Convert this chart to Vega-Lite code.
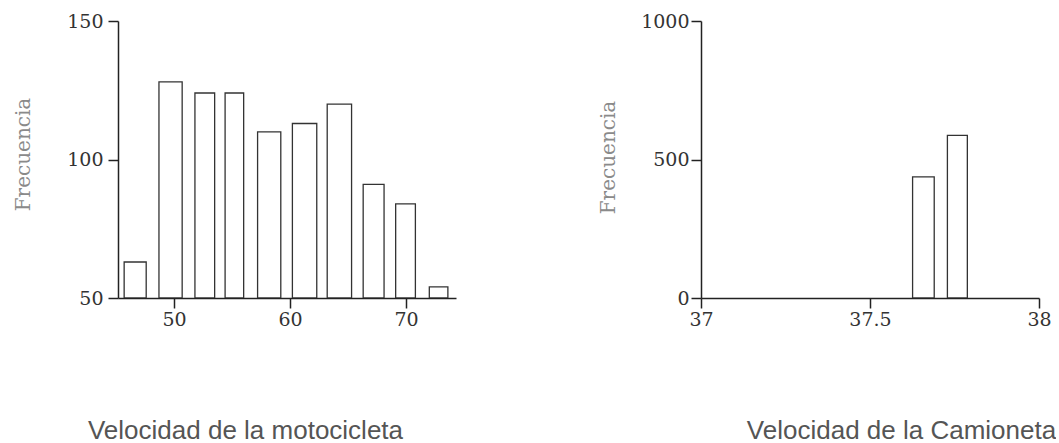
{
  "$schema": "https://vega.github.io/schema/vega-lite/v6.json",
  "background": "white",
  "padding": {"left": 12, "top": 12, "right": 0, "bottom": 0},
  "bounds": "flush",
  "spacing": 245,
  "config": {
    "view": {"stroke": null},
    "axis": {
      "grid": false,
      "domainColor": "#222",
      "domainWidth": 1.5,
      "tickColor": "#222",
      "tickWidth": 1.5,
      "tickSize": 10,
      "labelFont": "DejaVu Serif",
      "labelFontSize": 19,
      "labelColor": "#333",
      "labelFlush": false,
      "labelOverlap": false
    }
  },
  "datasets": {
    "moto": [
      {"x0": 45.7, "x1": 47.6, "count": 63},
      {"x0": 48.7, "x1": 50.7, "count": 128},
      {"x0": 51.8, "x1": 53.5, "count": 124},
      {"x0": 54.4, "x1": 56.0, "count": 124},
      {"x0": 57.2, "x1": 59.2, "count": 110},
      {"x0": 60.2, "x1": 62.3, "count": 113},
      {"x0": 63.2, "x1": 65.3, "count": 120},
      {"x0": 66.3, "x1": 68.1, "count": 91},
      {"x0": 69.1, "x1": 70.8, "count": 84},
      {"x0": 72.0, "x1": 73.6, "count": 54}
    ],
    "camioneta": [
      {"x0": 37.626, "x1": 37.69, "count": 437},
      {"x0": 37.729, "x1": 37.788, "count": 587}
    ]
  },
  "hconcat": [
    {
      "width": 338,
      "height": 277,
      "data": {"name": "moto"},
      "mark": {"type": "bar", "fill": "white", "stroke": "#333", "strokeWidth": 1.3, "clip": true},
      "encoding": {
        "x": {
          "field": "x0", "type": "quantitative",
          "scale": {"domain": [45.17, 74.3], "nice": false, "zero": false},
          "axis": {
            "values": [50, 60, 70], "labelPadding": 2, "format": "d",
            "title": "Velocidad de la motocicleta",
            "titleFont": "Liberation Sans", "titleFontSize": 26, "titleFontWeight": "normal",
            "titleColor": "#555", "titleX": 127, "titleY": 140, "titleBaseline": "alphabetic", "titleAlign": "center"
          }
        },
        "x2": {"field": "x1"},
        "y": {
          "field": "count", "type": "quantitative",
          "scale": {"domain": [50, 150], "nice": false, "zero": false},
          "axis": {
            "values": [50, 100, 150], "labelPadding": 5, "format": "d",
            "title": "Frecuencia",
            "titleFont": "DejaVu Serif", "titleFontSize": 20, "titleFontWeight": "normal",
            "titleColor": "#8a8a8a", "titleX": -95, "titleY": 133, "titleAlign": "center", "titleBaseline": "middle", "titleAngle": -90
          }
        },
        "y2": {"datum": 50}
      }
    },
    {
      "width": 338,
      "height": 277,
      "data": {"name": "camioneta"},
      "mark": {"type": "bar", "fill": "white", "stroke": "#333", "strokeWidth": 1.3, "clip": true},
      "encoding": {
        "x": {
          "field": "x0", "type": "quantitative",
          "scale": {"domain": [37, 38], "nice": false, "zero": false},
          "axis": {
            "values": [37, 37.5, 38], "labelPadding": 2, "format": "~g",
            "title": "Velocidad de la Camioneta",
            "titleFont": "Liberation Sans", "titleFontSize": 26, "titleFontWeight": "normal",
            "titleColor": "#555", "titleX": 200, "titleY": 140, "titleBaseline": "alphabetic", "titleAlign": "center"
          }
        },
        "x2": {"field": "x1"},
        "y": {
          "field": "count", "type": "quantitative",
          "scale": {"domain": [0, 1000], "nice": false, "zero": true},
          "axis": {
            "values": [0, 500, 1000], "labelPadding": 2, "format": "d",
            "title": "Frecuencia",
            "titleFont": "DejaVu Serif", "titleFontSize": 20, "titleFontWeight": "normal",
            "titleColor": "#8a8a8a", "titleX": -93, "titleY": 136, "titleAlign": "center", "titleBaseline": "middle", "titleAngle": -90
          }
        },
        "y2": {"datum": 0}
      }
    }
  ]
}
